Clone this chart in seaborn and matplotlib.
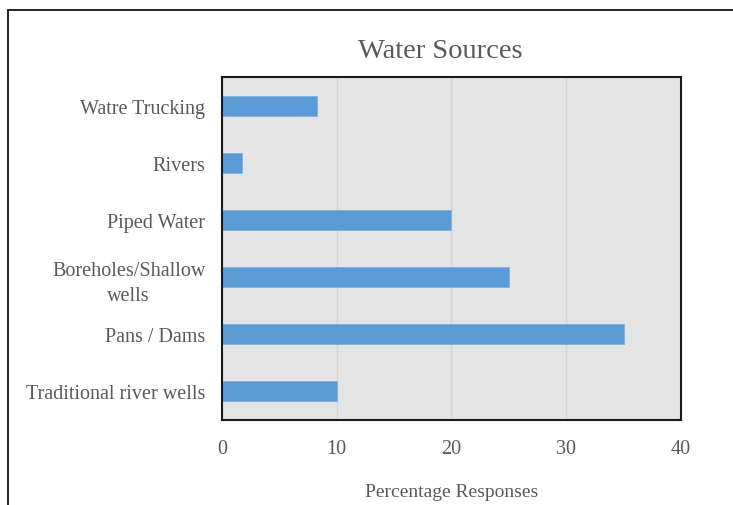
import matplotlib
matplotlib.use("Agg")
import matplotlib.pyplot as plt
import seaborn as sns
import pandas as pd
from matplotlib.lines import Line2D

sources = ["Watre Trucking", "Rivers", "Piped Water",
           "Boreholes/Shallow\nwells", "Pans / Dams", "Traditional river wells"]
responses = [8.3, 1.7, 20, 25, 35, 10]
x_ticks = [0, 10, 20, 30, 40]

df = pd.DataFrame({"source": sources, "pct": responses})

sns.set_theme(style="white")
plt.rcParams["font.family"] = ["Liberation Serif", "DejaVu Serif"]

text_color = "#595959"
fig = plt.figure(figsize=(7.33, 5.06), dpi=100)
ax = fig.add_axes([222 / 733, 1 - 421 / 506, (681 - 222) / 733, (421 - 78) / 506])

sns.barplot(data=df, x="pct", y="source", orient="h", color="#5B9BD5",
            saturation=1, width=0.35, edgecolor="#7FB0DE", linewidth=0.6, ax=ax)

ax.set_facecolor("#E4E4E4")
ax.set_xlim(0, 40)
ax.set_xticks(x_ticks)
ax.set_xticklabels([str(t) for t in x_ticks])
ax.xaxis.grid(True, color="#D4D4D4", linewidth=1)
ax.yaxis.grid(False)
ax.set_axisbelow(True)
for s in ax.spines.values():
    s.set_visible(True)
    s.set_color("#1a1a1a")
    s.set_linewidth(1.5)

ax.tick_params(axis="x", length=0, pad=14, labelsize=14.5, labelcolor=text_color)
ax.tick_params(axis="y", length=0, pad=12, labelsize=14.5, labelcolor=text_color)
for lbl in ax.get_yticklabels():
    lbl.set_multialignment("center")
    lbl.set_linespacing(1.45)

ax.set_ylabel("")
ax.set_xlabel("Percentage Responses", fontsize=14, color=text_color, labelpad=18)
fig.text((358 + 523) / 2 / 733, 1 - 51 / 506, "Water Sources",
         ha="center", va="center", fontsize=20.5, color=text_color)

# outer frame: top and left edges
fig.add_artist(Line2D([8 / 733, 1], [1 - 11 / 506, 1 - 11 / 506],
                      transform=fig.transFigure, color="black", linewidth=1.2))
fig.add_artist(Line2D([8 / 733, 8 / 733], [0, 1 - 11 / 506],
                      transform=fig.transFigure, color="black", linewidth=1.2))

fig.savefig("out.png", dpi=100)
